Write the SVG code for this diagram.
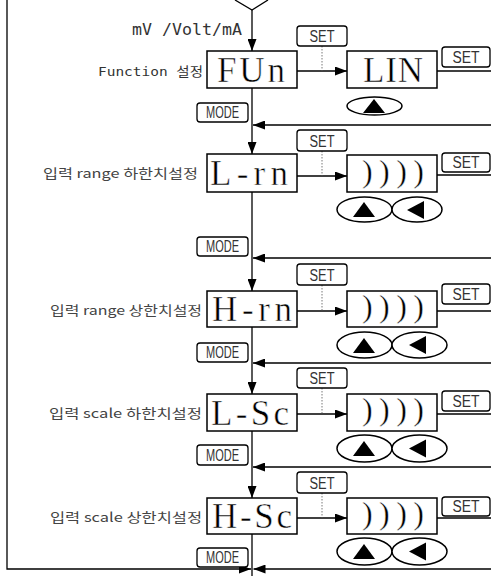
<svg xmlns="http://www.w3.org/2000/svg" width="491" height="576" viewBox="0 0 491 576">
<style>
.ln{stroke:#000;stroke-width:1.3;fill:none}
.box{fill:#fff;stroke:#000;stroke-width:1.5}
.btn{fill:#fff;stroke:#000;stroke-width:1.3}
.dot{stroke:#555;stroke-width:0.8;stroke-dasharray:1.5 1.5;fill:none}
.bt{font-family:"Liberation Sans",Arial,sans-serif;font-size:16px;text-anchor:middle;fill:#333}
.big{font-family:"Liberation Serif","Times New Roman",serif;font-size:35px;text-anchor:middle;fill:#000;stroke:#fff;stroke-width:0.5}
.par{font-family:"Liberation Serif","Times New Roman",serif;font-size:32px;text-anchor:middle;fill:#000;stroke:#fff;stroke-width:0.4}
.lab{font-family:"Noto Sans CJK KR","DejaVu Sans",sans-serif;font-size:13px;text-anchor:end;fill:#444}
.mono{font-family:"DejaVu Sans Mono","Noto Sans CJK KR",monospace;fill:#333}
.el{fill:#fff;stroke:#000;stroke-width:1.5}
</style>
<defs>
<marker id="ah" markerUnits="userSpaceOnUse" markerWidth="12" markerHeight="9" refX="12" refY="4.5" orient="auto"><path d="M0,0 L12,4.5 L0,9 z" fill="#000"/></marker>
</defs>
<rect width="491" height="576" fill="#fff"/>

<g id="connectors">
<polyline class="ln" points="235,0 252,10 268,0"/>
<line class="ln" x1="252" y1="10" x2="252" y2="51" marker-end="url(#ah)"/>
<line class="ln" x1="252" y1="88" x2="252" y2="154" marker-end="url(#ah)"/>
<line class="ln" x1="252" y1="192" x2="252" y2="291" marker-end="url(#ah)"/>
<line class="ln" x1="252" y1="327" x2="252" y2="394" marker-end="url(#ah)"/>
<line class="ln" x1="252" y1="431" x2="252" y2="498" marker-end="url(#ah)"/>
<line class="ln" x1="252" y1="534" x2="252" y2="576"/>
<line class="ln" x1="297" y1="71" x2="347" y2="71" marker-end="url(#ah)"/>
<line class="ln" x1="297" y1="176" x2="347" y2="176" marker-end="url(#ah)"/>
<line class="ln" x1="297" y1="311" x2="347" y2="311" marker-end="url(#ah)"/>
<line class="ln" x1="297" y1="414" x2="347" y2="414" marker-end="url(#ah)"/>
<line class="ln" x1="297" y1="518" x2="347" y2="518" marker-end="url(#ah)"/>
<line class="dot" x1="322" y1="46" x2="322" y2="71"/>
<line class="dot" x1="322" y1="151" x2="322" y2="176"/>
<line class="dot" x1="322" y1="285" x2="322" y2="311"/>
<line class="dot" x1="322" y1="388" x2="322" y2="414"/>
<line class="dot" x1="322" y1="493" x2="322" y2="518"/>
<line class="ln" x1="437" y1="71" x2="491" y2="71"/>
<line class="ln" x1="437" y1="175" x2="491" y2="175"/>
<line class="ln" x1="437" y1="311" x2="491" y2="311"/>
<line class="ln" x1="437" y1="414" x2="491" y2="414"/>
<line class="ln" x1="437" y1="518" x2="491" y2="518"/>
<line class="ln" x1="491" y1="125" x2="253" y2="125" marker-end="url(#ah)"/>
<line class="ln" x1="491" y1="258" x2="253" y2="258" marker-end="url(#ah)"/>
<line class="ln" x1="491" y1="363" x2="253" y2="363" marker-end="url(#ah)"/>
<line class="ln" x1="491" y1="467" x2="253" y2="467" marker-end="url(#ah)"/>
<line class="ln" x1="491" y1="569" x2="253.5" y2="569" marker-end="url(#ah)"/>
<polyline class="ln" points="7,0 7,569 251,569" marker-end="url(#ah)"/>
</g>

<text class="mono" x="132" y="35" font-size="15" textLength="110" lengthAdjust="spacingAndGlyphs">mV /Volt/mA</text>

<g id="fun">
<text class="mono" x="203" y="76" font-size="13" text-anchor="end" textLength="105" lengthAdjust="spacingAndGlyphs">Function  설정</text>
<rect class="box" x="207" y="51" width="90" height="37"/>
<text class="big" x="251" y="82" textLength="68">FUn</text>
</g>
<g id="set1"><rect class="btn" x="297" y="26" width="50" height="20" rx="3"/><text class="bt" x="322" y="42" textLength="25" lengthAdjust="spacingAndGlyphs">SET</text></g>
<g id="lin">
<rect class="box" x="347" y="51" width="90" height="37"/>
<text class="big" x="393" y="82" textLength="60">LIN</text>
</g>
<g id="setr1"><rect class="btn" x="442" y="47" width="48" height="20" rx="3"/><text class="bt" x="466" y="63" textLength="27" lengthAdjust="spacingAndGlyphs">SET</text></g>
<g id="up1"><ellipse class="el" cx="374.5" cy="106" rx="27.5" ry="9"/><polygon points="363,113 385,113 374,99" fill="#000"/></g>
<g id="mode1"><rect class="btn" x="197" y="103" width="51" height="19" rx="3"/><text class="bt" x="222.5" y="118" textLength="33" lengthAdjust="spacingAndGlyphs">MODE</text></g>

<g id="lrn">
<text class="lab" x="198" y="178" textLength="155" lengthAdjust="spacingAndGlyphs">입력 range 하한치설정</text>
<rect class="box" x="207" y="154" width="90" height="38"/>
<text class="big" x="249" y="185" textLength="78">L-rn</text>
</g>
<g id="set2"><rect class="btn" x="297" y="130" width="50" height="21" rx="3"/><text class="bt" x="322" y="147" textLength="25" lengthAdjust="spacingAndGlyphs">SET</text></g>
<g id="val2">
<rect class="box" x="347" y="155" width="90" height="37"/>
<text class="par" x="393" y="182" textLength="62">))))</text>
</g>
<g id="setr2"><rect class="btn" x="442" y="153" width="48" height="19" rx="3"/><text class="bt" x="466" y="168" textLength="27" lengthAdjust="spacingAndGlyphs">SET</text></g>
<g id="keys2"><ellipse class="el" cx="364.5" cy="209.5" rx="27.5" ry="12.5"/><polygon points="353,217 375,217 364,202" fill="#000"/><ellipse class="el" cx="417" cy="209.5" rx="25" ry="12.5"/><polygon points="407,210 424,201 424,219" fill="#000"/></g>
<g id="mode2"><rect class="btn" x="197" y="237" width="51" height="19" rx="3"/><text class="bt" x="222.5" y="252" textLength="33" lengthAdjust="spacingAndGlyphs">MODE</text></g>

<g id="hrn">
<text class="lab" x="202" y="315" textLength="152" lengthAdjust="spacingAndGlyphs">입력 range 상한치설정</text>
<rect class="box" x="207" y="291" width="90" height="36"/>
<text class="big" x="252" y="321" textLength="80">H-rn</text>
</g>
<g id="set3"><rect class="btn" x="297" y="264" width="50" height="21" rx="3"/><text class="bt" x="322" y="281" textLength="25" lengthAdjust="spacingAndGlyphs">SET</text></g>
<g id="val3">
<rect class="box" x="347" y="291" width="90" height="36"/>
<text class="par" x="393" y="317" textLength="62">))))</text>
</g>
<g id="setr3"><rect class="btn" x="442" y="284" width="48" height="20" rx="3"/><text class="bt" x="466" y="300" textLength="27" lengthAdjust="spacingAndGlyphs">SET</text></g>
<g id="keys3"><ellipse class="el" cx="364.5" cy="345" rx="27.5" ry="13"/><polygon points="353,353 375,353 364,338" fill="#000"/><ellipse class="el" cx="419.5" cy="345" rx="27.5" ry="13"/><polygon points="409,345 426,336 426,354" fill="#000"/></g>
<g id="mode3"><rect class="btn" x="197" y="343" width="51" height="19" rx="3"/><text class="bt" x="222.5" y="358" textLength="33" lengthAdjust="spacingAndGlyphs">MODE</text></g>

<g id="lsc">
<text class="lab" x="202" y="418" textLength="153" lengthAdjust="spacingAndGlyphs">입력 scale 하한치설정</text>
<rect class="box" x="207" y="394" width="90" height="37"/>
<text class="big" x="250" y="425" textLength="78">L-Sc</text>
</g>
<g id="set4"><rect class="btn" x="297" y="368" width="50" height="20" rx="3"/><text class="bt" x="322" y="384" textLength="25" lengthAdjust="spacingAndGlyphs">SET</text></g>
<g id="val4">
<rect class="box" x="347" y="394" width="90" height="37"/>
<text class="par" x="393" y="420" textLength="62">))))</text>
</g>
<g id="setr4"><rect class="btn" x="442" y="391" width="48" height="20" rx="3"/><text class="bt" x="466" y="407" textLength="27" lengthAdjust="spacingAndGlyphs">SET</text></g>
<g id="keys4"><ellipse class="el" cx="364.5" cy="448.5" rx="27.5" ry="13.5"/><polygon points="353,456 375,456 364,441" fill="#000"/><ellipse class="el" cx="419.5" cy="448.5" rx="27.5" ry="13.5"/><polygon points="409,448.5 426,439.5 426,457.5" fill="#000"/></g>
<g id="mode4"><rect class="btn" x="197" y="445" width="51" height="20" rx="3"/><text class="bt" x="222.5" y="461" textLength="33" lengthAdjust="spacingAndGlyphs">MODE</text></g>

<g id="hsc">
<text class="lab" x="202" y="522" textLength="152" lengthAdjust="spacingAndGlyphs">입력 scale 상한치설정</text>
<rect class="box" x="207" y="498" width="90" height="36"/>
<text class="big" x="252" y="528" textLength="80">H-Sc</text>
</g>
<g id="set5"><rect class="btn" x="297" y="472" width="50" height="21" rx="3"/><text class="bt" x="322" y="489" textLength="25" lengthAdjust="spacingAndGlyphs">SET</text></g>
<g id="val5">
<rect class="box" x="347" y="498" width="90" height="36"/>
<text class="par" x="393" y="524" textLength="62">))))</text>
</g>
<g id="setr5"><rect class="btn" x="442" y="497" width="48" height="19" rx="3"/><text class="bt" x="466" y="512" textLength="27" lengthAdjust="spacingAndGlyphs">SET</text></g>
<g id="keys5"><ellipse class="el" cx="364.5" cy="551.5" rx="27.5" ry="13.5"/><polygon points="353,559 375,559 364,544" fill="#000"/><ellipse class="el" cx="419.5" cy="551.5" rx="27.5" ry="13.5"/><polygon points="409,551.5 426,542.5 426,560.5" fill="#000"/></g>
<g id="mode5"><rect class="btn" x="197" y="548" width="51" height="19" rx="3"/><text class="bt" x="222.5" y="563" textLength="33" lengthAdjust="spacingAndGlyphs">MODE</text></g>
</svg>
